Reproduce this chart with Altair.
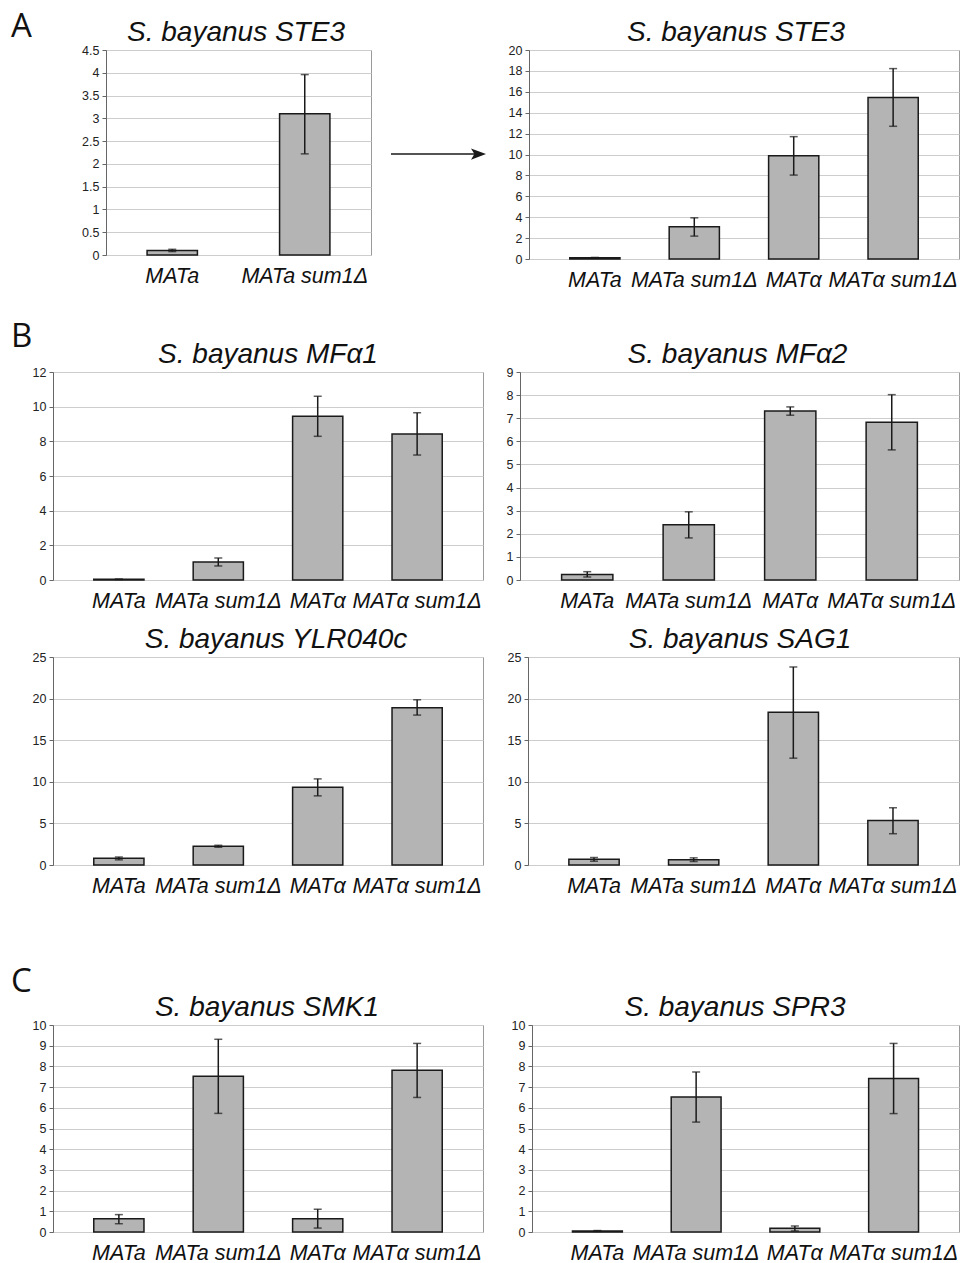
import altair as alt
import pandas as pd

SANS = "Liberation Sans"

CATS_2 = ["MATa", "MATa sum1Δ"]
CATS_4 = ["MATa", "MATa sum1Δ", "MATα", "MATα sum1Δ"]

# Panel A, left: S. bayanus STE3 (two strains)
STE3A_MEAN = [0.10, 3.10]
STE3A_LO = [0.075, 2.22]
STE3A_HI = [0.125, 3.96]
STE3A_TICKS = [0, 0.5, 1, 1.5, 2, 2.5, 3, 3.5, 4, 4.5]

# Panel A, right: S. bayanus STE3 (four strains)
STE3B_MEAN = [0.13, 3.08, 9.87, 15.46]
STE3B_LO = [0.11, 2.19, 8.03, 12.70]
STE3B_HI = [0.15, 3.94, 11.71, 18.22]
STE3B_TICKS = [0, 2, 4, 6, 8, 10, 12, 14, 16, 18, 20]

# Panel B
MFA1_MEAN = [0.04, 1.04, 9.44, 8.42]
MFA1_LO = [0.03, 0.81, 8.29, 7.21]
MFA1_HI = [0.05, 1.27, 10.60, 9.65]
MFA1_TICKS = [0, 2, 4, 6, 8, 10, 12]

MFA2_MEAN = [0.24, 2.39, 7.31, 6.83]
MFA2_LO = [0.13, 1.82, 7.13, 5.63]
MFA2_HI = [0.36, 2.95, 7.49, 8.02]
MFA2_TICKS = [0, 1, 2, 3, 4, 5, 6, 7, 8, 9]

YLR_MEAN = [0.80, 2.25, 9.35, 18.90]
YLR_LO = [0.62, 2.13, 8.31, 18.02]
YLR_HI = [0.96, 2.37, 10.35, 19.86]
YLR_TICKS = [0, 5, 10, 15, 20, 25]

SAG1_MEAN = [0.68, 0.64, 18.36, 5.36]
SAG1_LO = [0.46, 0.42, 12.84, 3.76]
SAG1_HI = [0.90, 0.86, 23.80, 6.88]
SAG1_TICKS = [0, 5, 10, 15, 20, 25]

# Panel C
SMK1_MEAN = [0.645, 7.53, 0.645, 7.82]
SMK1_LO = [0.40, 5.73, 0.19, 6.50]
SMK1_HI = [0.84, 9.31, 1.10, 9.11]
SMK1_TICKS = [0, 1, 2, 3, 4, 5, 6, 7, 8, 9, 10]

SPR3_MEAN = [0.05, 6.52, 0.18, 7.42]
SPR3_LO = [0.03, 5.31, 0.05, 5.72]
SPR3_HI = [0.07, 7.73, 0.29, 9.11]
SPR3_TICKS = [0, 1, 2, 3, 4, 5, 6, 7, 8, 9, 10]

BAR_FILL = "#b4b4b4"
INK = "#1a1a1a"
ARROW_HEAD = "M-1,-0.75L1,0L-1,0.75L-0.55,0Z"


def letter(ch, dx, dy):
    return alt.Chart(pd.DataFrame({"t": [ch]})).mark_text(
        align="left", baseline="alphabetic", font="Open Sans", fontSize=33,
        color="#111111"
    ).encode(text="t:N", x=alt.value(dx), y=alt.value(dy))


def panel(title, cats, mean, lo, hi, ticks, w, h, pi, po, tdx=0, extra=()):
    df = pd.DataFrame({"cat": cats, "mean": mean, "lo": lo, "hi": hi})
    base = alt.Chart(df)
    xs = alt.Scale(paddingInner=pi, paddingOuter=po)
    xaxis = alt.Axis(labelAngle=0, labelFont=SANS, labelFontStyle="italic",
                     labelFontSize=21.5, labelColor="#111111", labelPadding=10,
                     ticks=False, tickSize=0, domain=False, grid=False,
                     labelOverlap=False, labelLimit=400)
    ys = alt.Scale(domain=[ticks[0], ticks[-1]], nice=False, zero=True)
    yaxis = alt.Axis(values=ticks, labelExpr="toString(datum.value)",
                     labelOverlap=False, grid=True, gridColor="#cdcdcd",
                     gridWidth=1, domainColor="#666666", tickColor="#666666",
                     tickSize=4, labelFont=SANS, labelFontSize=12.5,
                     labelColor="#222222", labelPadding=3)
    x = alt.X("cat:N", sort=cats, title=None, scale=xs, axis=xaxis)

    def y(field):
        return alt.Y(field, scale=ys, title=None, axis=yaxis)

    bars = base.mark_bar(fill=BAR_FILL, stroke=INK, strokeWidth=1.5).encode(
        x=x, y=y("mean:Q"))
    rule = base.mark_rule(color=INK, strokeWidth=1.5).encode(
        x=x, y=y("lo:Q"), y2="hi:Q")
    cap_hi = base.mark_tick(color=INK, thickness=1.5, size=8).encode(x=x, y=y("hi:Q"))
    cap_lo = base.mark_tick(color=INK, thickness=1.5, size=8).encode(x=x, y=y("lo:Q"))
    ttl = alt.Chart(pd.DataFrame({"t": [title]})).mark_text(
        font=SANS, fontStyle="italic", fontSize=28, color="#111111",
        align="center", baseline="alphabetic"
    ).encode(text="t:N", x=alt.value(w / 2 + tdx), y=alt.value(-9))
    layers = [bars, rule, cap_hi, cap_lo, ttl] + list(extra)
    return alt.layer(*layers).properties(width=w, height=h)


arrow_line = alt.Chart(pd.DataFrame({"a": [0]})).mark_rule(color=INK, strokeWidth=1.5).encode(
    x=alt.value(285), x2=alt.value(375), y=alt.value(104))
arrow_head = alt.Chart(pd.DataFrame({"a": [0]})).mark_point(
    shape=ARROW_HEAD, filled=True, fill=INK, opacity=1, size=225, strokeWidth=0
).encode(x=alt.value(372.5), y=alt.value(104))

# spacer that shifts panel A to the right and carries the letter "A"
spacer = letter("A", -42, -13).properties(
    width=53, height=10, view=alt.ViewBackground(stroke="transparent"))

a_left = panel("S. bayanus STE3", CATS_2, STE3A_MEAN, STE3A_LO, STE3A_HI, STE3A_TICKS,
               265, 205, 0.62, 0.31, tdx=-2.5, extra=[arrow_line, arrow_head])
a_right = panel("S. bayanus STE3", CATS_4, STE3B_MEAN, STE3B_LO, STE3B_HI, STE3B_TICKS,
                430, 209, 0.495, 0.41, tdx=-8)

b1 = panel("S. bayanus MFα1", CATS_4, MFA1_MEAN, MFA1_LO, MFA1_HI, MFA1_TICKS,
           430, 208, 0.495, 0.41, tdx=0, extra=[letter("B", -42, -25)])
b2 = panel("S. bayanus MFα2", CATS_4, MFA2_MEAN, MFA2_LO, MFA2_HI, MFA2_TICKS,
           439, 208, 0.495, 0.41, tdx=-2)
b3 = panel("S. bayanus YLR040c", CATS_4, YLR_MEAN, YLR_LO, YLR_HI, YLR_TICKS,
           430, 208, 0.495, 0.41, tdx=8)
b4 = panel("S. bayanus SAG1", CATS_4, SAG1_MEAN, SAG1_LO, SAG1_HI, SAG1_TICKS,
           431, 208, 0.495, 0.41, tdx=-3.5)

c1 = panel("S. bayanus SMK1", CATS_4, SMK1_MEAN, SMK1_LO, SMK1_HI, SMK1_TICKS,
           430, 207, 0.495, 0.41, tdx=-1, extra=[letter("C", -42, -33)])
c2 = panel("S. bayanus SPR3", CATS_4, SPR3_MEAN, SPR3_LO, SPR3_HI, SPR3_TICKS,
           427, 207, 0.495, 0.41, tdx=-10.5)

row1 = alt.hconcat(spacer, alt.hconcat(a_left, a_right, spacing=158, bounds="flush"),
                   spacing=0, bounds="flush")
row2 = alt.hconcat(b1, b2, spacing=37, bounds="flush")
row3 = alt.hconcat(b3, b4, spacing=45, bounds="flush")
row4 = alt.hconcat(c1, c2, spacing=49, bounds="flush")

lower = alt.vconcat(row3, row4, spacing=68)
mid = alt.vconcat(row2, lower, spacing=13)
chart = alt.vconcat(row1, mid, spacing=29).properties(
    padding={"left": 10, "top": 10, "right": 2, "bottom": 0}
).configure(background="white").configure_view(stroke="#9a9a9a", strokeWidth=1)

chart.save("out.html", embed_options={"renderer": "svg", "actions": False})
